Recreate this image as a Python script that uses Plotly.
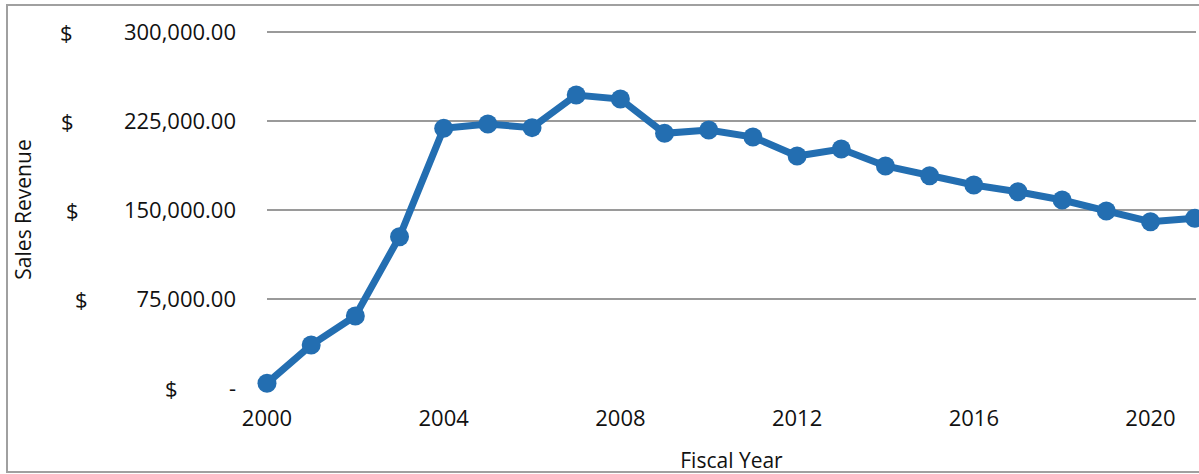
import plotly.graph_objects as go

years = list(range(2000, 2022))
revenue = [4000, 36200, 60700, 127500, 218800, 222500, 219400, 246900, 243500,
           214600, 217400, 211500, 195500, 201400, 187100, 178900, 171100,
           165400, 158400, 149200, 140100, 143000]

y_tick_vals = [0, 75000, 150000, 225000, 300000]
y_tick_text = ["-", "75,000.00", "150,000.00", "225,000.00", "300,000.00"]
dollar_px = [163, 73, 64, 59, 58]  # left edge pixel of "$" per tick
x_tick_vals = [2000, 2004, 2008, 2012, 2016, 2020]

W, H = 1199, 474
L, R, T, B = 267, 3, 31, 86
pw = W - L - R
ph = H - T - B

FONT = "Open Sans"
FS = 22
FT = 21
fig = go.Figure()
fig.add_trace(go.Scatter(
    x=years, y=revenue, mode="lines+markers",
    line=dict(color="#236eb1", width=7),
    marker=dict(color="#236eb1", size=19),
    cliponaxis=False, showlegend=False,
))

for v, px in zip(y_tick_vals, dollar_px):
    fig.add_annotation(x=(px - L) / pw, xref="paper", y=v, yref="y",
                       text="$", showarrow=False, xanchor="left",
                       font=dict(family=FONT, size=FS, color="#111111"))

fig.add_shape(type="rect", xref="paper", yref="paper",
              x0=(7 - L) / pw, x1=(1210 - L) / pw,
              y0=-(472 - (H - B)) / ph, y1=1 + (T - 5) / ph,
              line=dict(color="#a0a0a0", width=2), layer="below")

fig.update_layout(
    width=W, height=H, margin=dict(l=L, r=R, t=T, b=B),
    paper_bgcolor="white", plot_bgcolor="white",
    font=dict(family=FONT, size=FS, color="#111111"),
    xaxis=dict(range=[2000, 2021.03], tickvals=x_tick_vals, showgrid=False,
               zeroline=False, showline=False, ticks="", ticklabelstandoff=15,
               tickfont=dict(size=FS),
               title=dict(text="Fiscal Year", font=dict(size=FT), standoff=22)),
    yaxis=dict(range=[0, 300850], tickvals=y_tick_vals, ticktext=y_tick_text,
               showgrid=True, gridcolor="#9a9a9a", gridwidth=1.5,
               zeroline=True, zerolinecolor="white", showline=False, ticks="",
               ticklabelstandoff=30, tickfont=dict(size=FS),
               title=dict(text="Sales Revenue", font=dict(size=FT), standoff=86)),
)
fig.write_html("out.html")
